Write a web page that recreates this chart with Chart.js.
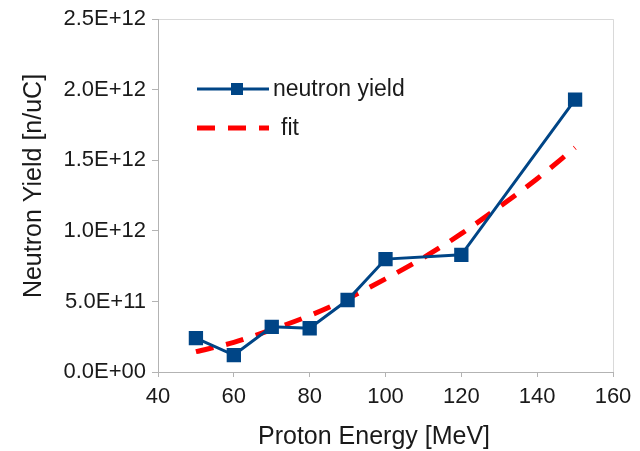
<!DOCTYPE html>
<html>
<head>
<meta charset="utf-8">
<script src="https://cdn.jsdelivr.net/npm/chart.js@4.4.1/dist/chart.umd.min.js"></script>
<style>
  html, body { margin: 0; padding: 0; background: #fff; }
  #wrap { width: 640px; height: 451px; }
</style>
</head>
<body>
<div id="wrap"><canvas id="canvas"></canvas></div>
<script>
// measured points
const energy = [50, 60, 70, 80, 90, 100, 120, 150];
const yieldValues = [2.4e11, 1.2e11, 3.2e11, 3.1e11, 5.1e11, 8.0e11, 8.3e11, 1.93e12];

// fit curve
const fitEnergy = [50, 60, 70, 80, 90, 100, 110, 120, 130, 140, 150];
const fitValues = [1.44e11, 2.1e11, 3.0e11, 4.0e11, 5.2e11, 6.6e11, 8.1e11, 9.8e11, 1.17e12, 1.37e12, 1.59e12];

const xTicks = [40, 60, 80, 100, 120, 140, 160];
const yTicks = [0, 5e11, 1e12, 1.5e12, 2e12, 2.5e12];

const xTitle = 'Proton Energy [MeV]';
const yTitle = 'Neutron Yield [n/uC]';

const FONT = 'Liberation Sans, Arial, sans-serif';
const TEXT = '#1a1a1a';
const BLUE = '#004586';
const RED = '#ff0000';

function sci(v) {
    let s = v.toExponential(1).toUpperCase();
    // pad exponent to two digits
    return s.replace(/E([+-])(\d)$/, 'E$10$2');
}

// legend drawn inside the plot area, top left
const innerLegend = {
    id: 'innerLegend',
    afterDraw(chart) {
        const ctx = chart.ctx;
        const items = chart.data.datasets;
        const x0 = 197, x1 = 269;
        ctx.save();
        items.forEach((ds, i) => {
            const y = 89 + i * 39;
            ctx.beginPath();
            ctx.strokeStyle = ds.borderColor;
            ctx.lineWidth = ds.borderWidth;
            ctx.setLineDash(ds.borderDash || []);
            ctx.moveTo(x0, y);
            ctx.lineTo(x1, y);
            ctx.stroke();
            ctx.setLineDash([]);
            if (ds.pointRadius > 0) {
                ctx.fillStyle = ds.pointBackgroundColor;
                ctx.fillRect(231, y - 6, 12, 12);
            }
            ctx.fillStyle = TEXT;
            ctx.font = '23px ' + FONT;
            ctx.textBaseline = 'middle';
            ctx.fillText(ds.label, ds.pointRadius > 0 ? 273 : 281, y + 1);
        });
        ctx.restore();
    }
};

// axis titles, placed where the original puts them (not centred on the plot)
const axisTitles = {
    id: 'axisTitles',
    afterDraw(chart) {
        const ctx = chart.ctx;
        ctx.save();
        ctx.fillStyle = TEXT;
        ctx.font = '25px ' + FONT;
        ctx.textAlign = 'center';
        ctx.textBaseline = 'middle';
        ctx.fillText(xTitle, 374, 437);
        ctx.translate(34, 186);
        ctx.rotate(-Math.PI / 2);
        ctx.fillText(yTitle, 0, 0);
        ctx.restore();
    }
};

const config = {
    type: 'scatter',
    data: {
        datasets: [
            {
                label: 'neutron yield',
                data: energy.map((x, i) => ({ x: x, y: yieldValues[i] })),
                showLine: true,
                borderColor: BLUE,
                backgroundColor: BLUE,
                pointBackgroundColor: BLUE,
                pointBorderColor: BLUE,
                borderWidth: 3,
                pointStyle: 'rect',
                pointRadius: 8,
                order: 0
            },
            {
                label: 'fit',
                data: fitEnergy.map((x, i) => ({ x: x, y: fitValues[i] })),
                showLine: true,
                borderColor: RED,
                borderWidth: 5,
                borderDash: [18, 13],
                pointRadius: 0,
                cubicInterpolationMode: 'monotone',
                order: 1
            }
        ]
    },
    options: {
        responsive: true,
        maintainAspectRatio: false,
        animation: false,
        layout: { padding: { top: 19, right: 27, left: 0, bottom: 0 } },
        plugins: {
            legend: { display: false },
            tooltip: { enabled: false }
        },
        scales: {
            x: {
                type: 'linear',
                min: 40,
                max: 160,
                afterBuildTicks: (scale) => { scale.ticks = xTicks.map(v => ({ value: v })); },
                afterFit: (scale) => { scale.height = 79; },
                border: { color: '#b3b3b3', width: 1 },
                grid: {
                    color: (c) => (c.tick && c.tick.value === 160 ? '#d9d9d9' : 'rgba(0,0,0,0)'),
                    tickColor: '#b3b3b3',
                    tickLength: 5
                },
                ticks: {
                    color: TEXT,
                    font: { family: FONT, size: 22 },
                    padding: 7,
                    maxRotation: 0
                }
            },
            y: {
                type: 'linear',
                min: 0,
                max: 2.5e12,
                afterBuildTicks: (scale) => { scale.ticks = yTicks.map(v => ({ value: v })); },
                afterFit: (scale) => { scale.width = 158; },
                border: { color: '#b3b3b3', width: 1 },
                grid: {
                    color: (c) => (c.tick && c.tick.value === 2.5e12 ? '#d9d9d9' : 'rgba(0,0,0,0)'),
                    tickColor: '#b3b3b3',
                    tickLength: 6
                },
                ticks: {
                    color: TEXT,
                    font: { family: FONT, size: 22 },
                    padding: 6,
                    callback: (v) => sci(v)
                }
            }
        }
    },
    plugins: [innerLegend, axisTitles]
};

new Chart(document.getElementById('canvas'), config);
</script>
</body>
</html>
